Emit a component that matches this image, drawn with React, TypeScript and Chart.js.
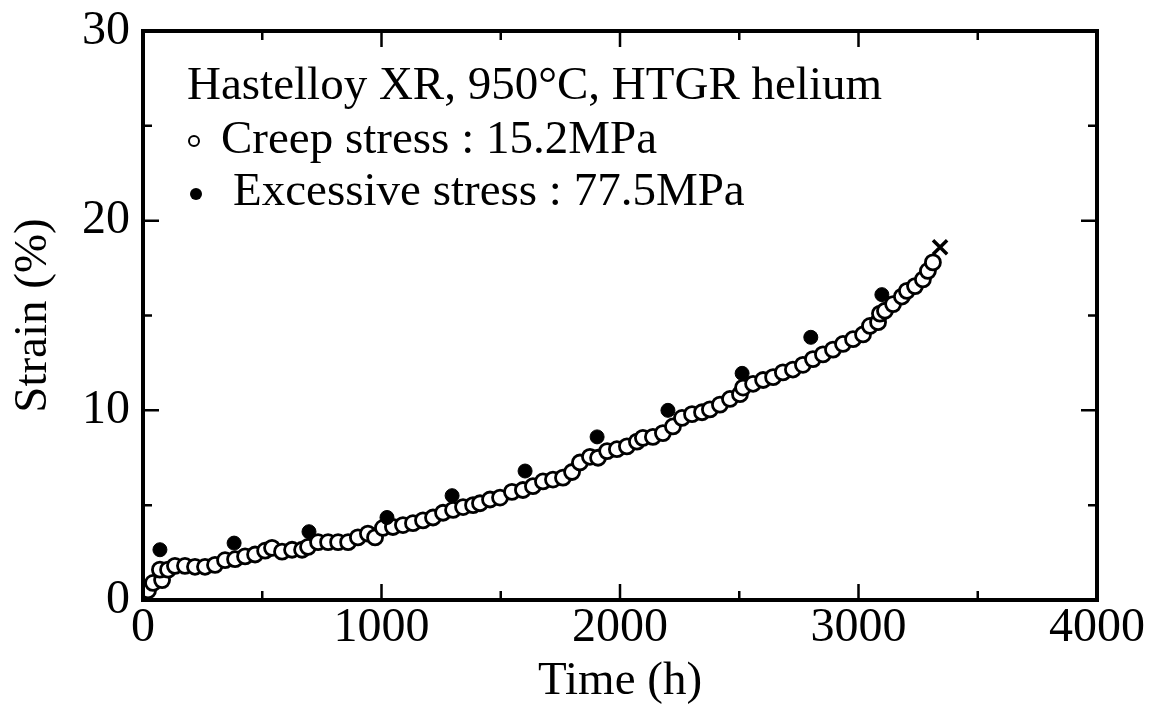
import React, { useEffect, useRef } from "react";
import { Chart, registerables } from "chart.js";

Chart.register(...registerables);

// Creep test under 15.2 MPa (open circles)
const creepTime = [
  21, 42, 80, 71, 105, 134, 176, 218, 260, 302, 344, 386, 428, 470, 512, 541, 583, 625, 667, 692,
  734, 776, 818, 860, 901, 943, 973, 1006, 1048, 1090, 1132, 1174, 1216, 1258, 1300, 1342, 1384,
  1413, 1455, 1497, 1547, 1593, 1635, 1677, 1719, 1761, 1799, 1832, 1874, 1908, 1946, 1987, 2029,
  2071, 2096, 2138, 2180, 2222, 2260, 2302, 2344, 2377, 2419, 2461, 2503, 2516, 2558, 2600, 2642,
  2683, 2725, 2767, 2809, 2851, 2893, 2935, 2977, 3019, 3048, 3082, 3090, 3111, 3145, 3182, 3203,
  3237, 3270, 3291, 3312,
];
const creepStrain = [
  0.5, 0.9, 1.05, 1.6, 1.6, 1.8, 1.8, 1.75, 1.75, 1.85, 2.1, 2.15, 2.3, 2.4, 2.6, 2.75, 2.55, 2.65,
  2.65, 2.8, 3.05, 3.05, 3.05, 3.05, 3.3, 3.5, 3.3, 3.8, 3.85, 3.95, 4.05, 4.2, 4.35, 4.6, 4.75, 4.9,
  5.0, 5.1, 5.3, 5.4, 5.7, 5.8, 6.0, 6.25, 6.35, 6.45, 6.75, 7.25, 7.55, 7.5, 7.85, 7.95, 8.1, 8.35,
  8.55, 8.6, 8.8, 9.15, 9.6, 9.8, 9.9, 10.05, 10.3, 10.6, 10.85, 11.2, 11.4, 11.6, 11.75, 12.0,
  12.15, 12.4, 12.7, 12.95, 13.2, 13.5, 13.75, 14.0, 14.45, 14.65, 15.1, 15.25, 15.6, 16.0, 16.3,
  16.55, 16.9, 17.35, 17.8,
];

// Excessive stress 77.5 MPa (filled circles)
const excessTime = [71, 382, 696, 1023, 1296, 1602, 1904, 2201, 2512, 2800, 3098];
const excessStrain = [2.65, 3.0, 3.6, 4.35, 5.5, 6.8, 8.6, 10.0, 11.95, 13.85, 16.1];

// Rupture (x mark)
const ruptureTime = [3342];
const ruptureStrain = [18.6];

const xTickValues = [0, 1000, 2000, 3000, 4000];
const yTickValues = [0, 10, 20, 30];

const xTitle = "Time (h)";
const yTitle = "Strain (%)";
const noteTitle = "Hastelloy XR, 950\u00B0C, HTGR helium";
const noteCreep = "Creep stress : 15.2MPa";
const noteExcess = "Excessive stress : 77.5MPa";

const FONT = "'Liberation Serif', 'Times New Roman', serif";

const framePlugin = {
  id: "frameTicks",
  afterDraw(chart: any) {
    const { ctx, chartArea } = chart;
    const { left, right, top, bottom } = chartArea;
    const xs = chart.scales.x;
    const ys = chart.scales.y;
    ctx.save();
    ctx.strokeStyle = "#000";
    ctx.lineCap = "butt";
    ctx.lineWidth = 2.5;
    const major = 16;
    const minor = 9;
    for (let i = 0; i < xTickValues.length; i++) {
      const v = xTickValues[i];
      const px = xs.getPixelForValue(v);
      ctx.beginPath();
      ctx.moveTo(px, bottom);
      ctx.lineTo(px, bottom - major);
      ctx.moveTo(px, top);
      ctx.lineTo(px, top + major);
      ctx.stroke();
      if (i < xTickValues.length - 1) {
        const mv = (v + xTickValues[i + 1]) / 2;
        const mp = xs.getPixelForValue(mv);
        ctx.beginPath();
        ctx.moveTo(mp, bottom);
        ctx.lineTo(mp, bottom - minor);
        ctx.moveTo(mp, top);
        ctx.lineTo(mp, top + minor);
        ctx.stroke();
      }
    }
    for (let i = 0; i < yTickValues.length; i++) {
      const v = yTickValues[i];
      const py = ys.getPixelForValue(v);
      ctx.beginPath();
      ctx.moveTo(left, py);
      ctx.lineTo(left + major, py);
      ctx.moveTo(right, py);
      ctx.lineTo(right - major, py);
      ctx.stroke();
      if (i < yTickValues.length - 1) {
        const mv = (v + yTickValues[i + 1]) / 2;
        const mp = ys.getPixelForValue(mv);
        ctx.beginPath();
        ctx.moveTo(left, mp);
        ctx.lineTo(left + minor, mp);
        ctx.moveTo(right, mp);
        ctx.lineTo(right - minor, mp);
        ctx.stroke();
      }
    }
    ctx.lineWidth = 4;
    ctx.strokeRect(left, top, right - left, bottom - top);
    ctx.restore();
  },
};

const notePlugin = {
  id: "note",
  afterDraw(chart: any) {
    const { ctx, chartArea } = chart;
    const x0 = chartArea.left;
    const y0 = chartArea.top;
    ctx.save();
    ctx.fillStyle = "#000";
    ctx.strokeStyle = "#000";
    ctx.font = `47px ${FONT}`;
    ctx.textBaseline = "alphabetic";
    ctx.textAlign = "left";
    ctx.fillText(noteTitle, x0 + 44, y0 + 68);
    ctx.lineWidth = 2;
    ctx.beginPath();
    ctx.arc(x0 + 51, y0 + 110, 5, 0, Math.PI * 2);
    ctx.stroke();
    ctx.fillText(noteCreep, x0 + 78, y0 + 122);
    ctx.beginPath();
    ctx.arc(x0 + 53, y0 + 163, 6, 0, Math.PI * 2);
    ctx.fill();
    ctx.fillText(noteExcess, x0 + 90, y0 + 174);
    ctx.restore();
  },
};

export default function App() {
  const canvasRef = useRef<HTMLCanvasElement | null>(null);

  useEffect(() => {
    const canvas = canvasRef.current;
    if (!canvas) return;
    const chart = new Chart(canvas, {
      type: "scatter",
      data: {
        datasets: [
          {
            label: "Excessive stress",
            data: excessTime.map((t, i) => ({ x: t, y: excessStrain[i] })),
            pointStyle: "circle",
            pointRadius: 7,
            pointBorderWidth: 1,
            pointBackgroundColor: "#000",
            pointBorderColor: "#000",
            showLine: false,
            order: 0,
          },
          {
            label: "Creep stress",
            data: creepTime.map((t, i) => ({ x: t, y: creepStrain[i] })),
            pointStyle: "circle",
            pointRadius: 7.5,
            pointBorderWidth: 2.8,
            pointBackgroundColor: "#fff",
            pointBorderColor: "#000",
            showLine: false,
            order: 1,
          },
          {
            label: "Rupture",
            data: ruptureTime.map((t, i) => ({ x: t, y: ruptureStrain[i] })),
            pointStyle: "crossRot",
            pointRadius: 10,
            pointBorderWidth: 3.5,
            pointBorderColor: "#000",
            pointBackgroundColor: "#000",
            showLine: false,
            order: 0,
          },
        ],
      },
      options: {
        responsive: false,
        animation: false,
        devicePixelRatio: 1,
        layout: { padding: { left: 0, right: 57, top: 31, bottom: 0 } },
        plugins: {
          legend: { display: false },
          tooltip: { enabled: false },
        },
        scales: {
          x: {
            type: "linear",
            min: 0,
            max: 4000,
            afterBuildTicks: (scale: any) => {
              scale.ticks = xTickValues.map((v) => ({ value: v }));
            },
            afterFit: (scale: any) => {
              scale.height = 110;
              scale.paddingLeft = 0;
              scale.paddingRight = 0;
            },
            grid: { display: false, drawTicks: false },
            border: { display: false },
            ticks: {
              color: "#000",
              font: { family: FONT, size: 48, lineHeight: 1 },
              padding: 4,
              maxRotation: 0,
              autoSkip: false,
              callback: (v: any) => String(v),
            },
            title: {
              display: true,
              text: xTitle,
              color: "#000",
              font: { family: FONT, size: 47, lineHeight: 1.2 },
              padding: { top: 0, bottom: 0 },
            },
          },
          y: {
            type: "linear",
            min: 0,
            max: 30,
            afterBuildTicks: (scale: any) => {
              scale.ticks = yTickValues.map((v) => ({ value: v }));
            },
            afterFit: (scale: any) => {
              scale.width = 143;
              scale.paddingTop = 0;
              scale.paddingBottom = 0;
            },
            grid: { display: false, drawTicks: false },
            border: { display: false },
            ticks: {
              color: "#000",
              font: { family: FONT, size: 48, lineHeight: 1 },
              padding: 13,
              autoSkip: false,
              callback: (v: any) => String(v),
            },
            title: {
              display: true,
              text: yTitle,
              color: "#000",
              font: { family: FONT, size: 47, lineHeight: 1.2 },
              padding: { top: 5, bottom: 0 },
            },
          },
        },
      },
      plugins: [framePlugin, notePlugin],
    });
    return () => chart.destroy();
  }, []);

  return (
    <div style={{ position: "fixed", left: 0, top: 0, width: 1154, height: 710, background: "#fff" }}>
      <canvas ref={canvasRef} width={1154} height={710} style={{ display: "block" }} />
    </div>
  );
}
